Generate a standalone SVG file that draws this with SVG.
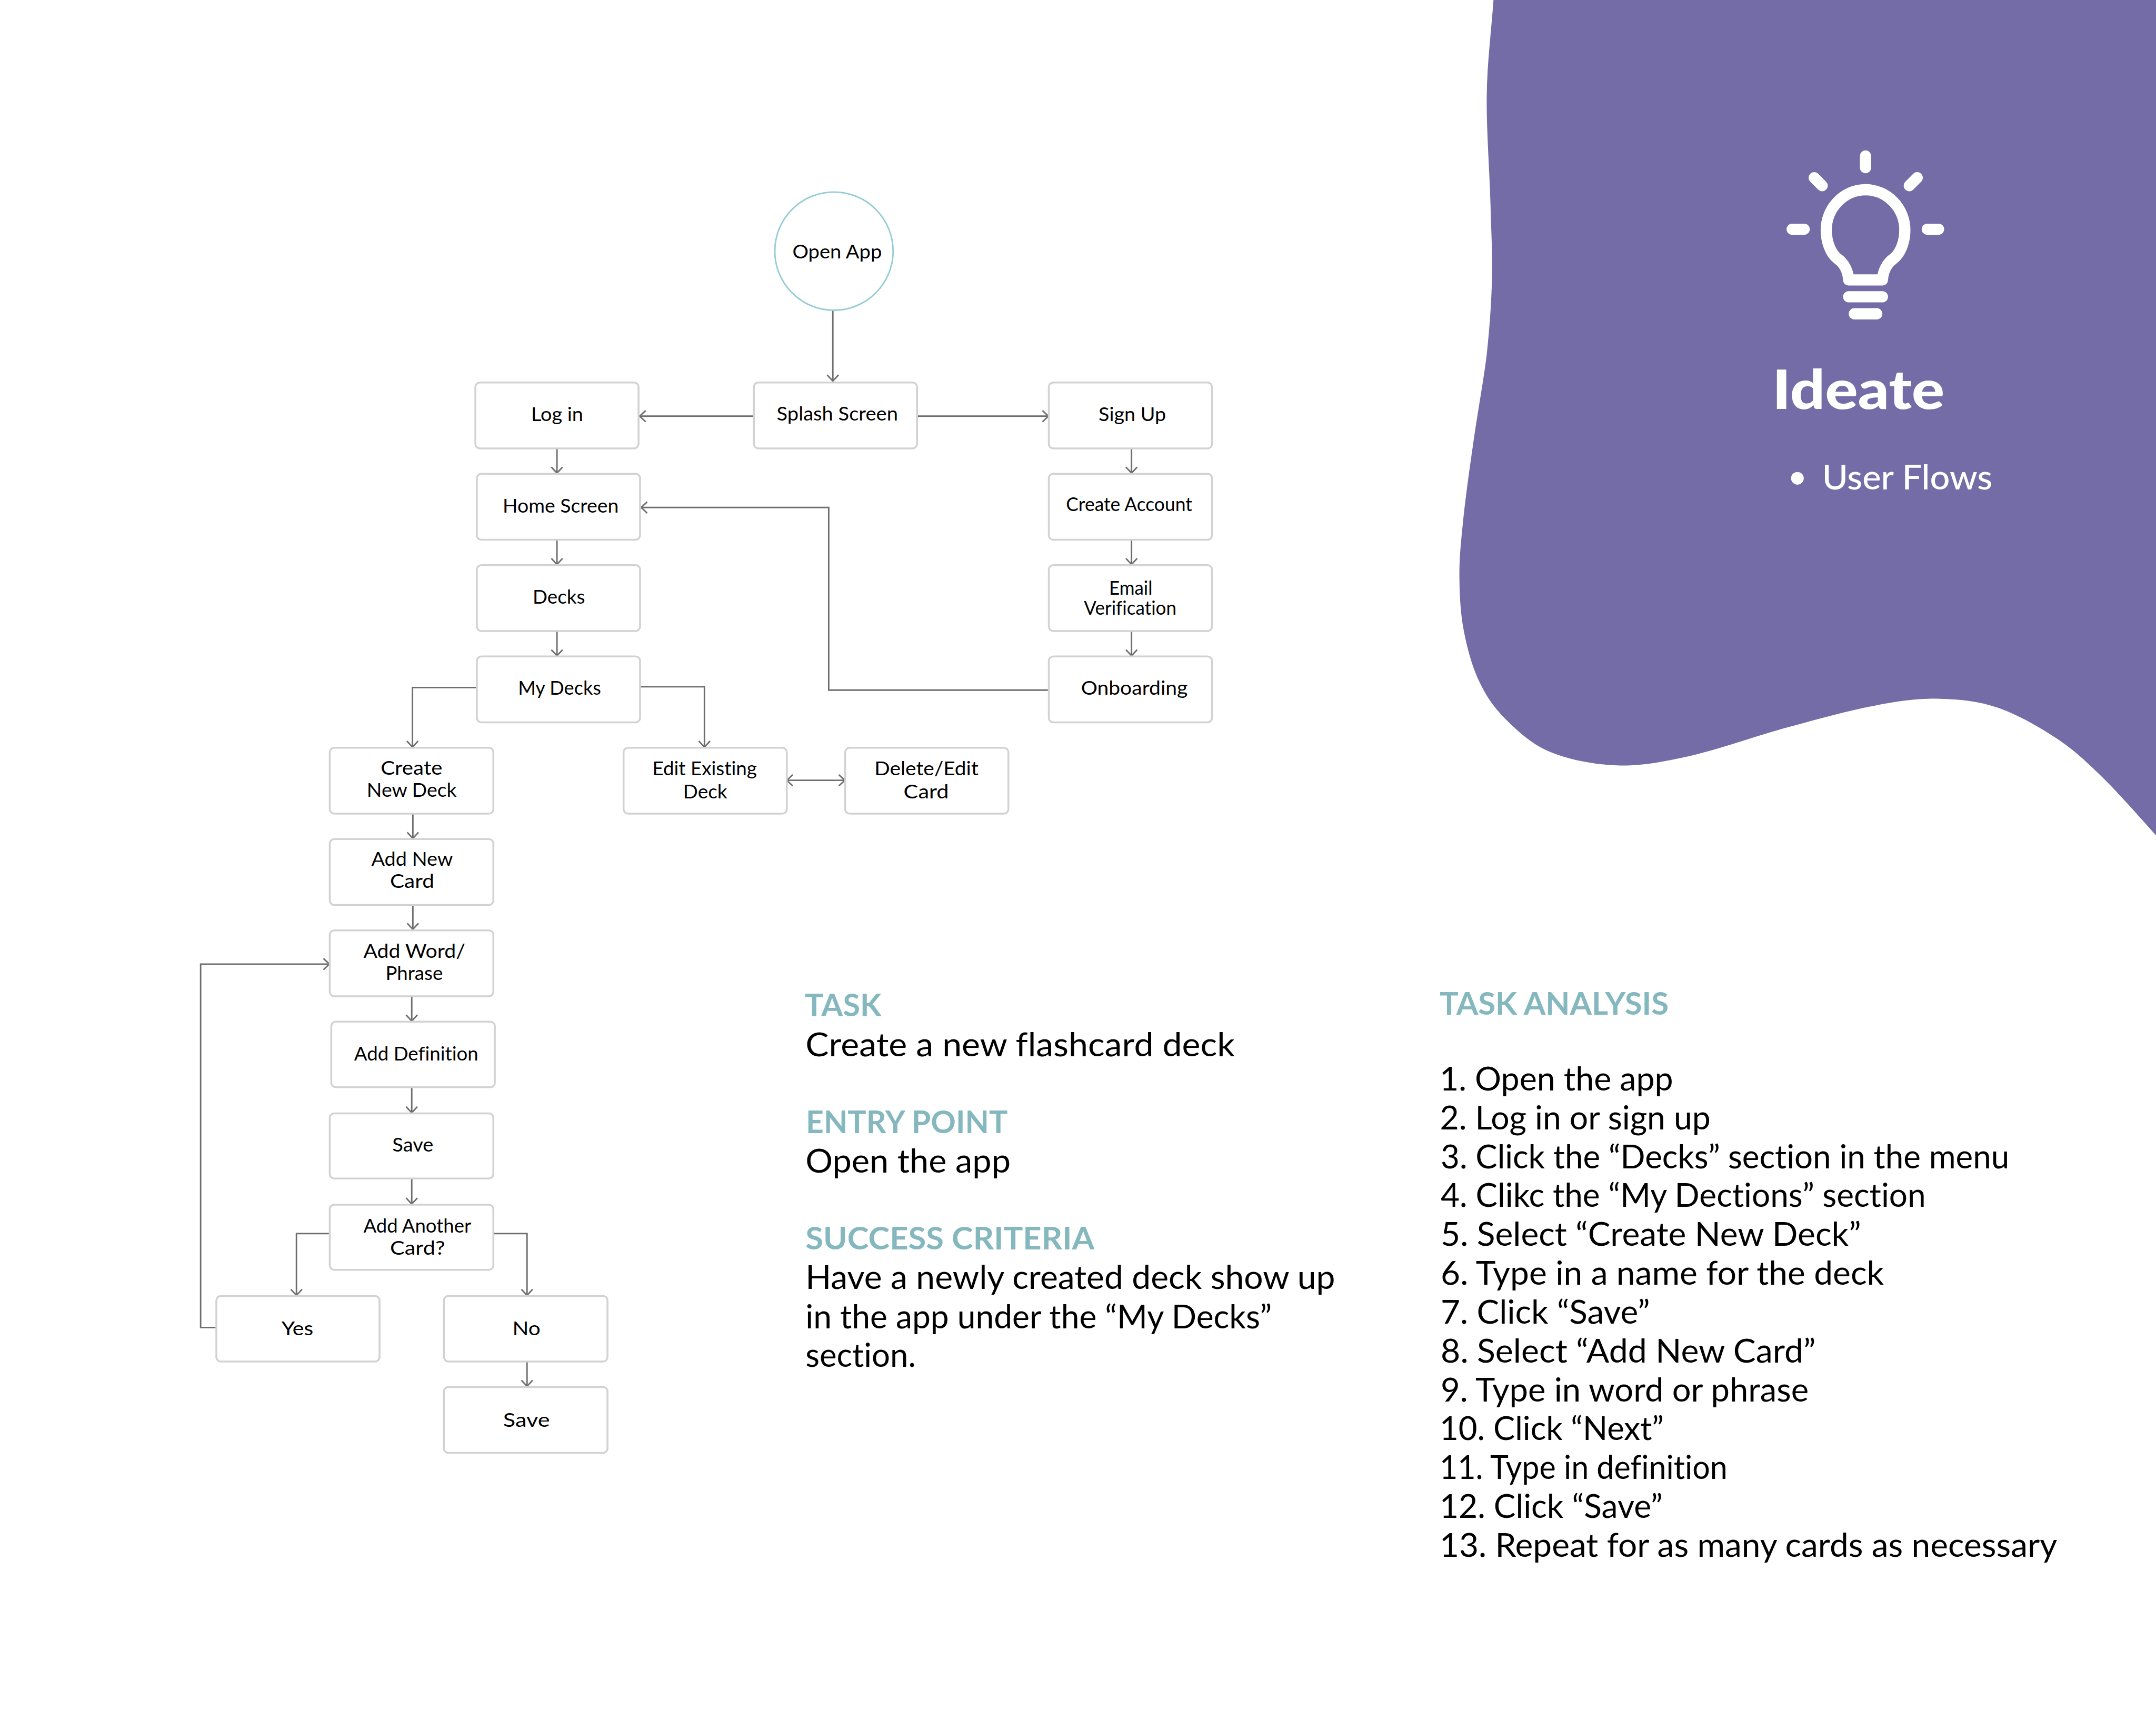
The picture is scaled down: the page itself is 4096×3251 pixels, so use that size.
<svg xmlns="http://www.w3.org/2000/svg" width="4096" height="3251" viewBox="0 0 4096 3251">
<defs>
<marker id="arr" markerUnits="userSpaceOnUse" markerWidth="40" markerHeight="40" refX="20" refY="20" orient="auto-start-reverse" viewBox="0 0 40 40"><path d="M4 5 L20 20 L4 35" fill="none" stroke="#6e6e6e" stroke-width="4"/></marker>
</defs>
<style>
text{font-family:"Lato","Liberation Sans",sans-serif;fill:#000;font-variant-ligatures:none}
.box{fill:#fff;stroke:#d2d2d2;stroke-width:5}
.n{font-size:52px;font-weight:400}
.b{font-size:86px;font-weight:400}
.h{font-size:84px;font-weight:700;fill:#85b8be}
.c{fill:none;stroke:#6e6e6e;stroke-width:4;marker-end:url(#arr)}
.w{fill:none;stroke:#fff;stroke-width:30;stroke-linecap:round;stroke-linejoin:round}
</style>
<rect width="4096" height="3251" fill="#fff"/>
<g transform="scale(0.71111)">
<g id="blob"><path fill="#736ca6" d="M3990 0C3984 86 3973 167 3972 258C3971 349 3980 464 3982 545C3984 626 3988 679 3986 746C3984 813 3980 873 3972 947C3963 1021 3946 1110 3935 1191C3924 1266 3914 1341 3908 1400C3902 1459 3898.5 1496 3899 1544C3899.5 1592 3902 1641 3911 1687C3920 1733 3933 1781 3951 1819C3969 1857 3987 1885 4018 1917C4049 1948 4089 1987 4139 2008C4189 2029 4257 2043 4320 2045C4382 2047 4437 2037 4514 2020C4591 2003 4698 1964 4781 1942C4864 1919 4944 1897 5011 1885C5078 1872 5126 1866 5181 1867C5235 1868 5285 1873 5338 1891C5390 1909 5449 1943 5496 1974C5542 2005 5573 2034 5617 2077C5661 2120 5713 2180 5760 2232L5760 0Z"/></g>
<g id="bulb">
<path class="w" d="M4939 748C4937 722 4925 702 4909 691C4890 676 4879 645 4879 615C4879 556 4926 507 4984 507C5042 507 5089 556 5089 615C5089 645 5078 676 5059 691C5043 702 5031 722 5029 748Z"/>
<path class="w" d="M4984 417V448M4788 612.5H4820M5149 612.5H5179M4847 475L4868 496M5122 475L5101 496M4939 793H5029M4954 838.5H5014"/>
</g>
<g id="title">
<text x="4735" y="1092" font-size="146" font-weight="900" style="fill:#fff" textLength="460" lengthAdjust="spacingAndGlyphs">Ideate</text>
<circle cx="4802" cy="1278" r="17" fill="#fff"/>
<text x="4868" y="1308" font-size="92" font-weight="500" style="fill:#fff" textLength="455" lengthAdjust="spacingAndGlyphs">User Flows</text>
</g>

<g id="connectors">
<path class="c" d="M2225 830V1018"/>
<path class="c" d="M2014 1112H1709"/>
<path class="c" d="M2450 1112H2801"/>
<path class="c" d="M1488 1198V1264"/>
<path class="c" d="M1488 1442V1508"/>
<path class="c" d="M1488 1686V1752"/>
<path class="c" d="M3023 1198V1264"/>
<path class="c" d="M3023 1442V1508"/>
<path class="c" d="M3023 1686V1752"/>
<path class="c" d="M2802 1844H2214V1356H1713"/>
<path class="c" d="M1710 1835H1882V1996"/>
<path class="c" d="M1274 1837H1102V1996"/>
<path class="c" style="marker-start:url(#arr)" d="M2102 2085H2257"/>
<path class="c" d="M1103 2174V2240"/>
<path class="c" d="M1103 2418V2483"/>
<path class="c" d="M1100 2662V2728"/>
<path class="c" d="M1100 2905V2973"/>
<path class="c" d="M1100 3149V3217"/>
<path class="c" d="M880 3296H792V3461"/>
<path class="c" d="M1320 3296H1408V3461"/>
<path class="c" d="M578 3547H536V2576H880"/>
<path class="c" d="M1408 3638V3704"/>
</g>

<g id="open-app"><circle cx="2228" cy="671" r="158" fill="#fff" stroke="#96cdd4" stroke-width="4"/><text class="n" x="2117" y="690" textLength="239" lengthAdjust="spacingAndGlyphs">Open App</text></g>
<g id="log-in"><rect class="box" x="1270" y="1022" width="436" height="176" rx="12"/><text class="n" x="1419" y="1125" textLength="139" lengthAdjust="spacingAndGlyphs">Log in</text></g>
<g id="splash"><rect class="box" x="2014" y="1022" width="436" height="176" rx="12"/><text class="n" x="2075" y="1124" textLength="324" lengthAdjust="spacingAndGlyphs">Splash Screen</text></g>
<g id="sign-up"><rect class="box" x="2802" y="1022" width="436" height="176" rx="12"/><text class="n" x="2935" y="1125" textLength="180" lengthAdjust="spacingAndGlyphs">Sign Up</text></g>
<g id="home"><rect class="box" x="1274" y="1266" width="436" height="176" rx="12"/><text class="n" x="1343" y="1369" textLength="310" lengthAdjust="spacingAndGlyphs">Home Screen</text></g>
<g id="create-account"><rect class="box" x="2802" y="1266" width="436" height="176" rx="12"/><text class="n" x="2848" y="1366" textLength="337" lengthAdjust="spacingAndGlyphs">Create Account</text></g>
<g id="decks"><rect class="box" x="1274" y="1510" width="436" height="176" rx="12"/><text class="n" x="1423" y="1613" textLength="140" lengthAdjust="spacingAndGlyphs">Decks</text></g>
<g id="email"><rect class="box" x="2802" y="1510" width="436" height="176" rx="12"/><text class="n" x="2963" y="1589" textLength="116" lengthAdjust="spacingAndGlyphs">Email</text><text class="n" x="2896" y="1642" textLength="247" lengthAdjust="spacingAndGlyphs">Verification</text></g>
<g id="my-decks"><rect class="box" x="1274" y="1754" width="436" height="176" rx="12"/><text class="n" x="1384" y="1856" textLength="222" lengthAdjust="spacingAndGlyphs">My Decks</text></g>
<g id="onboarding"><rect class="box" x="2802" y="1754" width="436" height="176" rx="12"/><text class="n" x="2888" y="1856" textLength="285" lengthAdjust="spacingAndGlyphs">Onboarding</text></g>
<g id="edit-existing"><rect class="box" x="1666" y="1998" width="436" height="176" rx="12"/><text class="n" x="1743" y="2072" textLength="279" lengthAdjust="spacingAndGlyphs">Edit Existing</text><text class="n" x="1825" y="2133" textLength="118" lengthAdjust="spacingAndGlyphs">Deck</text></g>
<g id="delete-edit"><rect class="box" x="2258" y="1998" width="436" height="176" rx="12"/><text class="n" x="2336" y="2072" textLength="278" lengthAdjust="spacingAndGlyphs">Delete/Edit</text><text class="n" x="2414" y="2133" textLength="121" lengthAdjust="spacingAndGlyphs">Card</text></g>
<g id="create-new-deck"><rect class="box" x="881" y="1998" width="437" height="176" rx="12"/><text class="n" x="1017" y="2070" textLength="165" lengthAdjust="spacingAndGlyphs">Create</text><text class="n" x="980" y="2129" textLength="240" lengthAdjust="spacingAndGlyphs">New Deck</text></g>
<g id="add-new-card"><rect class="box" x="881" y="2242" width="437" height="176" rx="12"/><text class="n" x="992" y="2313" textLength="218" lengthAdjust="spacingAndGlyphs">Add New</text><text class="n" x="1042" y="2373" textLength="118" lengthAdjust="spacingAndGlyphs">Card</text></g>
<g id="add-word"><rect class="box" x="881" y="2486" width="437" height="176" rx="12"/><text class="n" x="971" y="2559" textLength="272" lengthAdjust="spacingAndGlyphs">Add Word/</text><text class="n" x="1030" y="2619" textLength="153" lengthAdjust="spacingAndGlyphs">Phrase</text></g>
<g id="add-definition"><rect class="box" x="885" y="2730" width="437" height="175" rx="12"/><text class="n" x="946" y="2833" textLength="332" lengthAdjust="spacingAndGlyphs">Add Definition</text></g>
<g id="save-1"><rect class="box" x="881" y="2975" width="437" height="174" rx="12"/><text class="n" x="1048" y="3077" textLength="110" lengthAdjust="spacingAndGlyphs">Save</text></g>
<g id="add-another"><rect class="box" x="881" y="3219" width="437" height="174" rx="12"/><text class="n" x="971" y="3294" textLength="288" lengthAdjust="spacingAndGlyphs">Add Another</text><text class="n" x="1042" y="3353" textLength="147" lengthAdjust="spacingAndGlyphs">Card?</text></g>
<g id="yes"><rect class="box" x="578" y="3463" width="436" height="175" rx="12"/><text class="n" x="752" y="3567" textLength="85" lengthAdjust="spacingAndGlyphs">Yes</text></g>
<g id="no"><rect class="box" x="1186" y="3463" width="437" height="175" rx="12"/><text class="n" x="1369" y="3567" textLength="75" lengthAdjust="spacingAndGlyphs">No</text></g>
<g id="save-2"><rect class="box" x="1186" y="3706" width="437" height="176" rx="12"/><text class="n" x="1344" y="3813" textLength="125" lengthAdjust="spacingAndGlyphs">Save</text></g>

<g id="task-block">
<text class="h" x="2150" y="2716" textLength="205" lengthAdjust="spacingAndGlyphs">TASK</text>
<text class="b" x="2152" y="2822" textLength="1147" lengthAdjust="spacingAndGlyphs">Create a new flashcard deck</text>
<text class="h" x="2153" y="3028" textLength="539" lengthAdjust="spacingAndGlyphs">ENTRY POINT</text>
<text class="b" x="2152" y="3133" textLength="548" lengthAdjust="spacingAndGlyphs">Open the app</text>
<text class="h" x="2152" y="3339" textLength="772" lengthAdjust="spacingAndGlyphs">SUCCESS CRITERIA</text>
<text class="b" x="2152" y="3444" textLength="1415" lengthAdjust="spacingAndGlyphs">Have a newly created deck show up</text>
<text class="b" x="2152" y="3549" textLength="1246" lengthAdjust="spacingAndGlyphs">in the app under the “My Decks”</text>
<text class="b" x="2152" y="3652" textLength="295" lengthAdjust="spacingAndGlyphs">section.</text>
</g>
<g id="analysis-block">
<text class="h" x="3846" y="2711" textLength="612" lengthAdjust="spacingAndGlyphs">TASK ANALYSIS</text>
<text class="b" x="3846" y="2914" textLength="624" lengthAdjust="spacingAndGlyphs">1. Open the app</text>
<text class="b" x="3847" y="3018" textLength="723" lengthAdjust="spacingAndGlyphs">2. Log in or sign up</text>
<text class="b" x="3849" y="3122" textLength="1519" lengthAdjust="spacingAndGlyphs">3. Click the “Decks” section in the menu</text>
<text class="b" x="3849" y="3225" textLength="1296" lengthAdjust="spacingAndGlyphs">4. Clikc the “My Dections” section</text>
<text class="b" x="3849" y="3329" textLength="1123" lengthAdjust="spacingAndGlyphs">5. Select “Create New Deck”</text>
<text class="b" x="3849" y="3433" textLength="1184" lengthAdjust="spacingAndGlyphs">6. Type in a name for the deck</text>
<text class="b" x="3849" y="3537" textLength="559" lengthAdjust="spacingAndGlyphs">7. Click “Save”</text>
<text class="b" x="3849" y="3641" textLength="1002" lengthAdjust="spacingAndGlyphs">8. Select “Add New Card”</text>
<text class="b" x="3849" y="3745" textLength="983" lengthAdjust="spacingAndGlyphs">9. Type in word or phrase</text>
<text class="b" x="3846" y="3848" textLength="599" lengthAdjust="spacingAndGlyphs">10. Click “Next”</text>
<text class="b" x="3846" y="3952" textLength="769" lengthAdjust="spacingAndGlyphs">11. Type in definition</text>
<text class="b" x="3846" y="4056" textLength="596" lengthAdjust="spacingAndGlyphs">12. Click “Save”</text>
<text class="b" x="3846" y="4160" textLength="1650" lengthAdjust="spacingAndGlyphs">13. Repeat for as many cards as necessary</text>
</g>
</g>
</svg>
